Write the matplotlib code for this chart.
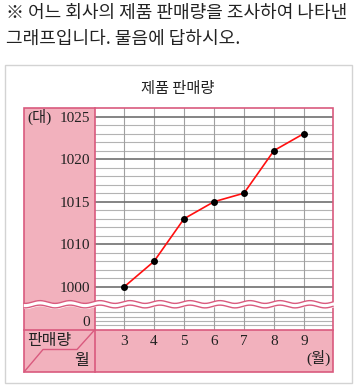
import matplotlib
matplotlib.use("Agg")
import matplotlib.pyplot as plt
import numpy as np
from matplotlib.patches import Rectangle

# data
months = [3, 4, 5, 6, 7, 8, 9]
sales = [1000, 1006, 1013, 1015, 1016, 1021, 1023]
ytick_vals = [1025, 1020, 1015, 1010, 1000, 992]
ytick_labels = ["1025", "1020", "1015", "1010", "1000", "0"]
month_labels = [str(m) for m in months]

PINK = "#f2b1bd"
EDGE = "#d95a7e"
KR = ["Noto Sans CJK KR", "DejaVu Sans"]
SERIF = ["Liberation Serif", "Noto Sans CJK KR"]

W, H = 357, 387


def frac(x0, y0, x1, y1):
    return [x0 / W, 1 - y1 / H, (x1 - x0) / W, (y1 - y0) / H]


# the chart squeezes 1000-1010 into the same height as 5 units above 1010
def fwd(y):
    y = np.asarray(y, dtype=float)
    return np.where(y >= 1010, y, 1010 + (y - 1010) / 2)


def inv(y):
    y = np.asarray(y, dtype=float)
    return np.where(y >= 1010, y, 1010 + (y - 1010) * 2)


fig = plt.figure(figsize=(W / 100, H / 100), dpi=100)

bg = fig.add_axes([0, 0, 1, 1], zorder=0)
bg.set_xlim(0, W)
bg.set_ylim(H, 0)
bg.axis("off")
bg.add_patch(Rectangle((5, 65), 347, 318, fill=False, ec="#d3d3d3", lw=1))
bg.add_patch(Rectangle((24, 108), 309, 264, fc=PINK, ec="none"))
bg.text(6, 13, "※ 어느 회사의 제품 판매량을 조사하여 나타낸", family=KR,
        fontsize=13, va="center", ha="left", color="#222222")
bg.text(6, 39, "그래프입니다. 물음에 답하시오.", family=KR,
        fontsize=13, va="center", ha="left", color="#222222")
bg.text(178, 88, "제품 판매량", family=KR, fontsize=11, ha="center",
        va="center", color="#222222")

ax = fig.add_axes(frac(95, 108, 333, 329.5), zorder=1)
ax.set_facecolor("white")
ax.set_yscale("function", functions=(fwd, inv))
ax.set_xlim(2.03, 9.97)
ax.set_ylim(990, 1026)

minor = [v for v in range(1011, 1026) if v % 5] + [1002, 1004, 1006, 1008, 998, 994, 993, 992, 991]
for v in minor:
    ax.axhline(v, color="#b3b3b3", lw=0.8, zorder=1)
for v in [1025, 1020, 1015, 1010, 1000]:
    ax.axhline(v, color="#707070", lw=1.2, zorder=1.5)
for m in months:
    ax.axvline(m, color="#a0a0a0", lw=0.8, zorder=1)

ax.plot(months, sales, color="#ff1010", lw=1.2, zorder=3)
ax.plot(months, sales, "o", color="black", ms=4, zorder=4)

ax.set_yticks(ytick_vals)
ax.set_yticklabels(ytick_labels, family=SERIF, fontsize=11)
ax.set_xticks(months)
ax.set_xticklabels(month_labels, family=SERIF, fontsize=11)
ax.yaxis.set_minor_locator(plt.NullLocator())
ax.tick_params(axis="y", length=0, pad=3.5, colors="#222222")
ax.tick_params(axis="x", length=0, pad=4, colors="#222222")
for s in ax.spines.values():
    s.set_visible(False)

top = fig.add_axes([0, 0, 1, 1], zorder=2)
top.set_xlim(0, W)
top.set_ylim(H, 0)
top.axis("off")
top.patch.set_alpha(0)
top.add_patch(Rectangle((24, 108), 309, 264, fill=False, ec=EDGE, lw=1.2))
top.plot([95, 95], [108, 372], color=EDGE, lw=1.2)
top.plot([24, 333], [329.5, 329.5], color=EDGE, lw=1.2)
top.plot([24, 43, 77, 95], [372, 349.5, 349.5, 329.5], color=EDGE, lw=1.0)

# wavy break band
xs = np.linspace(24, 333, 400)
yu = 302 - 1.4 * np.cos(2 * np.pi * (xs - 190) / 30)
yl = yu + 4.5
top.fill_between(xs, yu, yl, color="white", zorder=5)
top.plot(xs, yu, color=EDGE, lw=1.0, zorder=6)
top.plot(xs, yl, color=EDGE, lw=1.0, zorder=6)

top.text(27, 117, "(대)", family=SERIF, fontsize=11, ha="left", va="center", color="#222222")
top.text(27, 341, "판매량", family=KR, fontsize=11.5, ha="left", va="center", color="#222222")
top.text(82, 361, "월", family=KR, fontsize=11.5, ha="center", va="center", color="#222222")
top.text(331, 358, "(월)", family=SERIF, fontsize=11, ha="right", va="center", color="#222222")

fig.savefig("out.png", dpi=100)
